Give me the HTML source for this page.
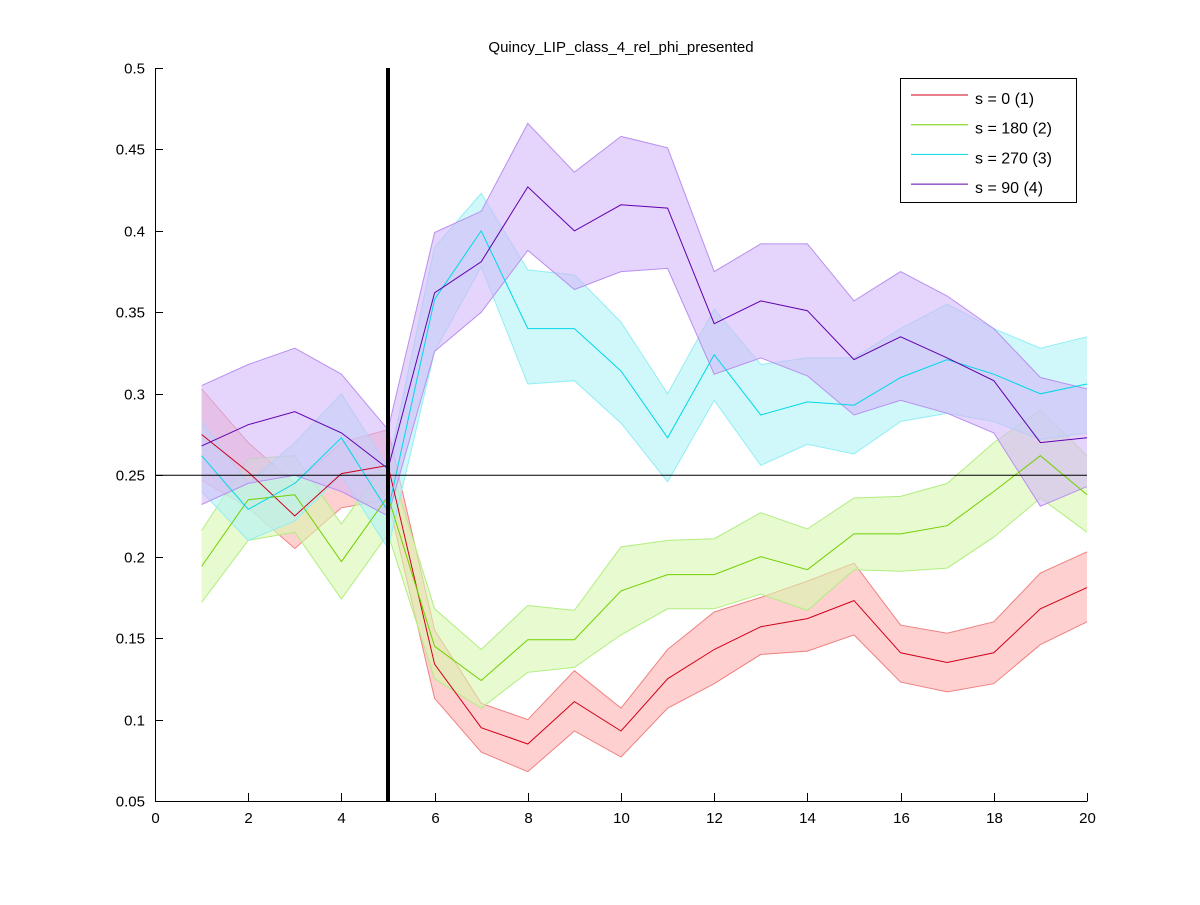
<!DOCTYPE html>
<html><head><meta charset="utf-8"><style>
body{margin:0;background:#fff;}
svg text{font-family:"Liberation Sans",sans-serif;}
</style></head><body>
<svg id="chart" width="1200" height="900" xmlns="http://www.w3.org/2000/svg">
<rect width="1200" height="900" fill="#fff"/>
<text x="621" y="52" text-anchor="middle" font-size="15">Quincy_LIP_class_4_rel_phi_presented</text>
<g id="bands"></g>
<g id="lines"></g>
<g id="axes"></g>
<g>
<rect x="900.5" y="78.5" width="176" height="124" fill="#fff" stroke="#000"/>
<g id="legend-items"></g>
</g>
</svg>
<script>
const xs = [1,2,3,4,5,6,7,8,9,10,11,12,13,14,15,16,17,18,19,20];
const xTicks = [0,2,4,6,8,10,12,14,16,18,20];
const yTicks = [0.05,0.1,0.15,0.2,0.25,0.3,0.35,0.4,0.45,0.5];
const yTickLabels = ["0.05","0.1","0.15","0.2","0.25","0.3","0.35","0.4","0.45","0.5"];
const seriesNames = ["s = 0 (1)","s = 180 (2)","s = 270 (3)","s = 90 (4)"];
const redMean = [0.275,0.252,0.225,0.251,0.256,0.134,0.095,0.085,0.111,0.093,0.125,0.143,0.157,0.162,0.173,0.141,0.135,0.141,0.168,0.181];
const redUpper = [0.303,0.27,0.245,0.27,0.278,0.155,0.11,0.1,0.13,0.107,0.143,0.166,0.175,0.185,0.196,0.158,0.153,0.16,0.19,0.203];
const redLower = [0.247,0.23,0.205,0.23,0.235,0.113,0.08,0.068,0.093,0.077,0.107,0.122,0.14,0.142,0.152,0.123,0.117,0.122,0.146,0.16];
const greenMean = [0.194,0.235,0.238,0.197,0.237,0.145,0.124,0.149,0.149,0.179,0.189,0.189,0.2,0.192,0.214,0.214,0.219,0.24,0.262,0.238];
const greenUpper = [0.216,0.26,0.262,0.22,0.26,0.168,0.143,0.17,0.167,0.206,0.21,0.211,0.227,0.217,0.236,0.237,0.245,0.27,0.29,0.262];
const greenLower = [0.172,0.21,0.215,0.174,0.214,0.125,0.107,0.129,0.132,0.152,0.168,0.168,0.177,0.167,0.192,0.191,0.193,0.212,0.236,0.215];
const cyanMean = [0.262,0.229,0.245,0.273,0.228,0.358,0.4,0.34,0.34,0.314,0.273,0.324,0.287,0.295,0.293,0.31,0.321,0.312,0.3,0.306];
const cyanUpper = [0.283,0.245,0.27,0.3,0.255,0.39,0.423,0.376,0.373,0.344,0.3,0.352,0.318,0.322,0.322,0.34,0.355,0.34,0.328,0.335];
const cyanLower = [0.24,0.21,0.222,0.25,0.205,0.326,0.378,0.306,0.308,0.282,0.246,0.296,0.256,0.269,0.263,0.283,0.288,0.283,0.272,0.276];
const purpleMean = [0.268,0.281,0.289,0.276,0.254,0.362,0.381,0.427,0.4,0.416,0.414,0.343,0.357,0.351,0.321,0.335,0.322,0.308,0.27,0.273];
const purpleUpper = [0.305,0.318,0.328,0.312,0.278,0.399,0.412,0.466,0.436,0.458,0.451,0.375,0.392,0.392,0.357,0.375,0.36,0.34,0.31,0.303];
const purpleLower = [0.232,0.245,0.25,0.24,0.225,0.326,0.35,0.388,0.364,0.375,0.377,0.312,0.322,0.311,0.287,0.296,0.288,0.276,0.231,0.243];
const refX = 5;
const refY = 0.25;

const X0=155,X1=1087,Y0=801,Y1=68;
const xMin=0,xMax=20,yMin=0.05,yMax=0.5;
function sx(v){return X0+(v-xMin)/(xMax-xMin)*(X1-X0);}
function sy(v){return Y0-(v-yMin)/(yMax-yMin)*(Y0-Y1);}
const NS="http://www.w3.org/2000/svg";
function mk(tag,attrs,parent){const e=document.createElementNS(NS,tag);for(const k in attrs)e.setAttribute(k,attrs[k]);parent.appendChild(e);return e;}

const series=[
 {m:redMean,u:redUpper,l:redLower,line:"#d0001a",fill:"#ffb0b0",edge:"#f08080",key:"red"},
 {m:greenMean,u:greenUpper,l:greenLower,line:"#70d000",fill:"#d8f8b0",edge:"#b0ee80",key:"green"},
 {m:cyanMean,u:cyanUpper,l:cyanLower,line:"#00d8e8",fill:"#b0f4f8",edge:"#90eef4",key:"cyan"},
 {m:purpleMean,u:purpleUpper,l:purpleLower,line:"#6000b0",fill:"#d4b8f8",edge:"#b890f0",key:"purple"}
];
const bands=document.getElementById('bands'),lines=document.getElementById('lines');
function pts(arr){return arr.map((v,i)=>sx(xs[i]).toFixed(1)+","+sy(v).toFixed(1));}
series.forEach(s=>{
 const poly=pts(s.u).concat(pts(s.l).reverse()).join(" ");
 const b=mk('polygon',{points:poly,fill:s.fill,'fill-opacity':0.6,stroke:'none'},bands);
 
 
 const eu=mk('polyline',{points:pts(s.u).join(" "),fill:'none',stroke:s.edge,'stroke-width':1},bands);
 
 
 const el=mk('polyline',{points:pts(s.l).join(" "),fill:'none',stroke:s.edge,'stroke-width':1},bands);
 
 
});
series.forEach(s=>{
 const p=mk('polyline',{points:pts(s.m).join(" "),fill:'none',stroke:s.line,'stroke-width':1},lines);
 
 
});
const axes=document.getElementById('axes');
const hl=mk('line',{x1:X0,x2:X1,y1:sy(refY),y2:sy(refY),stroke:'#000','stroke-width':1},axes);


const vl=mk('line',{x1:sx(refX),x2:sx(refX),y1:Y1,y2:Y0,stroke:'#000','stroke-width':4},axes);


const ax=mk('path',{d:`M${X0+0.5},${Y1} V${Y0+0.5} H${X1+0.5}`,fill:'none',stroke:'#000'},axes);


xTicks.forEach(t=>{
 const x=Math.round(sx(t))+0.5;
 const tk=mk('line',{x1:x,x2:x,y1:Y0,y2:Y0-8,stroke:'#000'},axes);
 
 
 const tx=mk('text',{x:x,y:Y0+22,'text-anchor':'middle','font-size':15},axes);
 tx.textContent=t;
 
 
});
yTicks.forEach((t,i)=>{
 const y=Math.round(sy(t))+0.5;
 const tk=mk('line',{x1:X0,x2:X0+8,y1:y,y2:y,stroke:'#000'},axes);
 
 
 const tx=mk('text',{x:X0-10,y:y+5,'text-anchor':'end','font-size':15},axes);
 tx.textContent=yTickLabels[i];
 
 
});
const li=document.getElementById('legend-items');
seriesNames.forEach((n,i)=>{
 const y=95+i*29.7;
 const l=mk('line',{x1:911,x2:968,y1:y,y2:y,stroke:series[i].line},li);
 
 
 const t=mk('text',{x:975,y:y+9,'font-size':16},li);
 t.textContent=n;
 
 
});
</script>
</body></html>
